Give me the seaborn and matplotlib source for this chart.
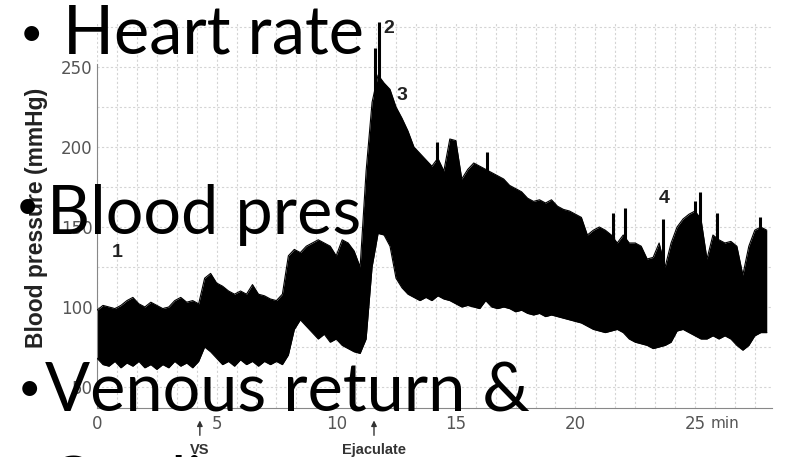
import numpy as np
import pandas as pd
import matplotlib
matplotlib.use("Agg")
import matplotlib.pyplot as plt
import seaborn as sns

# ---- data ----
time_min = np.arange(0, 28.01, 0.25)
bp_upper = [98, 101, 100, 99, 101, 104, 106, 102, 100, 103, 101, 99, 100, 104, 106, 103, 104, 102,
            118, 121, 115, 113, 110, 108, 110, 108, 114, 108, 107, 105, 104, 108,
            132, 136, 134, 138, 140, 142, 140, 138, 132, 142, 140, 135, 125,
            185, 228, 245, 240, 236, 225, 218, 210, 200, 196, 192, 188, 193, 185, 205,
            204, 180, 186, 190, 188, 186, 184, 182, 180, 176, 174, 172, 168, 166, 167, 165,
            167, 163, 161, 160, 158, 156, 145, 148, 150, 148, 145, 140, 145, 140, 140, 138,
            130, 131, 140, 125, 140, 150, 155, 158, 160, 155, 130, 145, 142, 140, 141, 138,
            120, 138, 148, 150, 148]
bp_lower = [68, 64, 63, 66, 62, 65, 63, 66, 62, 64, 61, 64, 62, 66, 63, 65, 62, 66,
            75, 72, 68, 64, 66, 63, 67, 64, 66, 63, 66, 64, 66, 64,
            70, 86, 92, 88, 84, 80, 83, 78, 80, 76, 74, 72, 71,
            80, 125, 146, 145, 138, 118, 112, 108, 106, 104, 106, 104, 107, 105, 104,
            102, 100, 101, 100, 99, 104, 100, 99, 100, 99, 97, 98, 96, 95, 96, 94,
            95, 94, 93, 92, 91, 90, 88, 86, 85, 84, 85, 86, 84, 80, 78, 77,
            76, 74, 75, 76, 78, 85, 86, 84, 82, 80, 80, 82, 80, 82, 80, 76,
            73, 76, 82, 84, 84]
# narrow systolic spikes rising above the band
spike_t = [11.62, 11.79, 12.8, 14.2, 16.3, 21.57, 22.07, 23.66, 24.98, 25.2, 25.92, 27.72]
spike_top = [262, 278, 212, 203, 197, 159, 162, 155, 166, 172, 159, 156]
x_ticks = [0, 5, 10, 15, 20, 25]
x_tick_labels = ["0", "5", "10", "15", "20", "25"]
y_ticks = [50, 100, 150, 200, 250]
y_tick_labels = ["50", "100", "150", "200", "250"]
phase_labels = ["1", "2", "3", "4"]
phase_x = [0.85, 12.2, 12.75, 23.7]
phase_y = [134, 274, 232, 168]
events = ["VS", "Ejaculate"]
event_x = [4.3, 11.58]
bullets = ["Heart rate", "Blood pressure", "Venous return &", "Cardiac output"]

df = pd.DataFrame({"t": time_min, "upper": bp_upper, "lower": bp_lower})
spikes = pd.DataFrame({"t": spike_t, "top": spike_top})
spikes["base"] = np.interp(spikes["t"], df["t"], df["upper"])

sns.set_style("white")
W, H = 787, 457
fig = plt.figure(figsize=(W / 100, H / 100), dpi=100)
x0, x1 = 97, 772
ytop, ybot = 22, 408
ax = fig.add_axes([x0 / W, 1 - ybot / H, (x1 - x0) / W, (ybot - ytop) / H])

px_per_min = 23.92
ax.set_xlim(0, (x1 - x0) / px_per_min)
ax.set_ylim(100 + (307 - ybot) / 1.6, 100 + (307 - ytop) / 1.6)

# grid
for gx in np.arange(0, 28.3, 5 / 6):
    ax.axvline(gx, color="#d4d4d4", lw=0.8, ls=(0, (2, 2)), zorder=0)
for gy in np.arange(50, 276, 25):
    ax.axhline(gy, color="#d4d4d4", lw=0.8, ls=(0, (2, 2)), zorder=0)

ax.fill_between(df["t"], df["lower"], df["upper"], color="black", lw=0, zorder=2)
sns.lineplot(data=df, x="t", y="upper", color="black", lw=0.8, ax=ax, zorder=3)
sns.lineplot(data=df, x="t", y="lower", color="black", lw=0.8, ax=ax, zorder=3)
ax.vlines(spikes["t"], spikes["base"] - 5, spikes["top"], color="black", lw=2.2, zorder=3)

for s in ["top", "right"]:
    ax.spines[s].set_visible(False)
ax.spines["left"].set_color("#888888")
ax.spines["bottom"].set_color("#888888")
ax.spines["left"].set_bounds(ax.get_ylim()[0], 252)

ax.set_xticks(x_ticks)
ax.set_xticklabels(x_tick_labels)
ax.set_yticks(y_ticks)
ax.set_yticklabels(y_tick_labels)
ax.tick_params(axis="x", length=0, pad=5, labelsize=12, labelcolor="#555555")
ax.tick_params(axis="y", length=0, pad=3, labelsize=12, labelcolor="#555555")
for lab in ax.get_xticklabels() + ax.get_yticklabels():
    lab.set_family("DejaVu Sans")
ax.set_xlabel("")
ax.set_ylabel("")
ax.annotate("min", xy=(25.65, 0), xycoords=("data", "axes fraction"),
            xytext=(0, -5.5), textcoords="offset points", ha="left", va="top",
            fontsize=11, color="#555555", family="DejaVu Sans", annotation_clip=False)

for lab, px, py in zip(phase_labels, phase_x, phase_y):
    ax.text(px, py, lab, ha="center", va="center", fontsize=14, fontweight="bold",
            family="Liberation Sans", color="#222222", zorder=5)

for ev, ex in zip(events, event_x):
    ax.annotate("", xy=(ex, -0.025), xytext=(ex, -0.078),
                xycoords=ax.get_xaxis_transform(),
                arrowprops=dict(arrowstyle="-|>", color="#333333", lw=1, mutation_scale=8),
                annotation_clip=False)
    ax.text(ex, -0.09, ev, transform=ax.get_xaxis_transform(), ha="center", va="top",
            fontsize=10.5, fontweight="bold", family="Liberation Sans", color="#333333")

fig.text(37 / W, 1 - 218 / H, "Blood pressure (mmHg)", rotation=90, ha="center", va="center",
         fontsize=16.5, fontweight="bold", family="Liberation Sans", color="#222222")

# overlaid slide bullet text
big = dict(fontsize=48, family="Lato", color="black", va="baseline", ha="left", zorder=10)
fig.text(63 / W, 1 - 54 / H, bullets[0], **big)
fig.text(47 / W, 1 - 234 / H, bullets[1], **big)
fig.text(45 / W, 1 - 411 / H, bullets[2], **big)
fig.text(47 / W, 1 - 505 / H, bullets[3], **big)
bul = dict(fontsize=29, family="Lato", color="black", va="baseline", ha="center", zorder=10)
fig.text(31 / W, 1 - 46 / H, "•", **bul)
fig.text(27 / W, 1 - 219 / H, "•", **bul)
fig.text(29 / W, 1 - 401 / H, "•", **bul)

fig.savefig("out.png", dpi=100)
